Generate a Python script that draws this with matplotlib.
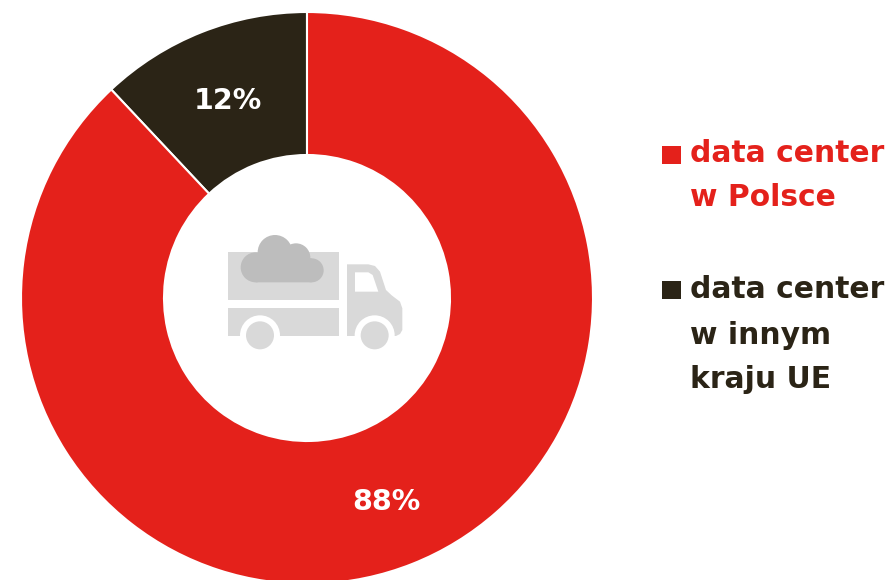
import matplotlib
matplotlib.use("Agg")
import matplotlib.pyplot as plt
from matplotlib.patches import Circle, Polygon, Rectangle

categories = ["data center\nw innym\nkraju UE", "data center\nw Polsce"]
values = [12, 88]
value_labels = ["12%", "88%"]
colors = ["#2B2416", "#E4211B"]
GREY = "#D9D9D9"
CLOUD = "#BDBDBD"
FONT = "DejaVu Sans"
H = 580

fig = plt.figure(figsize=(8.89, 5.8), dpi=100)
ax = fig.add_axes([0, 0, 1, 1])

wedges, _ = ax.pie(values, colors=colors, startangle=90, counterclock=True,
                   center=(307, H - 298), radius=286,
                   wedgeprops=dict(width=143, edgecolor="white", linewidth=1.5))
ax.set_xlim(0, 889)
ax.set_ylim(0, H)
ax.set_aspect("equal")
ax.axis("off")

ax.text(227.5, H - 101, value_labels[0], color="white", fontsize=20.5, fontweight="bold",
        family=FONT, ha="center", va="center")
ax.text(386, H - 502, value_labels[1], color="white", fontsize=20.5, fontweight="bold",
        family=FONT, ha="center", va="center")

# legend
ax.add_patch(Rectangle((662, H - 164), 19, 18, color=colors[1], lw=0))
ax.add_patch(Rectangle((662, H - 299), 19, 18, color=colors[0], lw=0))
for y, line, c in [(154, "data center", 1), (198, "w Polsce", 1),
                   (290, "data center", 0), (335, "w innym", 0), (379, "kraju UE", 0)]:
    ax.text(690, H - y, line, color=colors[c], fontsize=21.4, fontweight="bold",
            family=FONT, ha="left", va="center")

def Z(pts):
    return [(200 + x / 3, H - (210 + y / 3)) for x, y in pts]

# cargo box
ax.add_patch(Polygon(Z([(84, 126), (417, 126), (417, 270), (84, 270)]), color=GREY, lw=0, zorder=5))
ax.add_patch(Polygon(Z([(85, 294), (417, 294), (417, 378), (85, 378)]), color=GREY, lw=0, zorder=5))
# cab
ax.add_patch(Polygon(Z([(441, 163), (505, 163), (525, 168), (540, 185), (558, 240), (575, 256),
                        (600, 275), (607, 295), (607, 360), (600, 372), (588, 378), (441, 378)]),
                     color=GREY, lw=0, zorder=5))
ax.add_patch(Polygon(Z([(465, 187), (505, 187), (518, 195), (535, 245), (465, 245)]),
                     color="white", lw=0, zorder=6))
# wheels
for zx in (180, 524):
    cx, cy = 200 + zx / 3, H - (210 + 376 / 3)
    ax.add_patch(Circle((cx, cy), 20, color="white", lw=0, zorder=6))
    ax.add_patch(Circle((cx, cy), 14, color=GREY, lw=0, zorder=7))
# cloud
for zx, zy, zr in [(225, 127, 52), (288, 143, 43), (167, 172, 45), (335, 181, 36)]:
    ax.add_patch(Circle((200 + zx / 3, H - (210 + zy / 3)), zr / 3, color=CLOUD, lw=0, zorder=8))
ax.add_patch(Polygon(Z([(167, 150), (335, 145), (335, 217), (167, 217)]), color=CLOUD, lw=0, zorder=8))

fig.savefig("out.png", dpi=100)
